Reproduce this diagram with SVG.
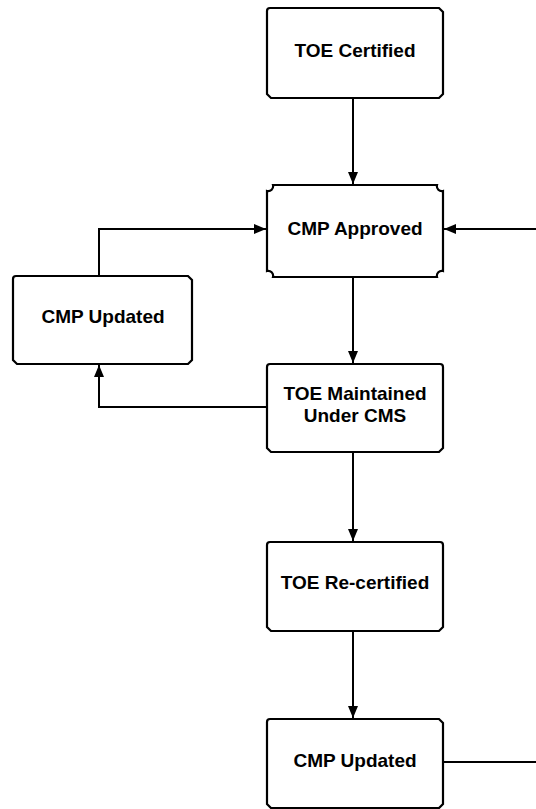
<svg xmlns="http://www.w3.org/2000/svg" width="536" height="809" viewBox="0 0 536 809">
<style>
.box{fill:#fff;stroke:#000;stroke-width:2.2}
.lbl{font-family:"Liberation Sans",Arial,sans-serif;font-weight:bold;font-size:19px;fill:#000;text-anchor:middle}
.con{fill:none;stroke:#000;stroke-width:2}
</style>
<defs>
<marker id="ah" viewBox="0 0 12 10" refX="12" refY="5" markerWidth="12" markerHeight="10" markerUnits="userSpaceOnUse" orient="auto">
<path d="M0,0 L12,5 L0,10 Z" fill="#000"/>
</marker>
</defs>
<rect width="536" height="809" fill="#fff"/>
<g id="connectors">
<path class="con" d="M353,98 V184" marker-end="url(#ah)"/>
<path class="con" d="M353,277 V363" marker-end="url(#ah)"/>
<path class="con" d="M353,452 V541" marker-end="url(#ah)"/>
<path class="con" d="M353,631 V718" marker-end="url(#ah)"/>
<path class="con" d="M267,407 H99 V365" marker-end="url(#ah)"/>
<path class="con" d="M99,276 V229 H266" marker-end="url(#ah)"/>
<path class="con" d="M443,762 H536"/>
<path class="con" d="M536,229 H444" marker-end="url(#ah)"/>
</g>
<g id="toe-certified">
<path class="box" d="M270,8 H439 L443,12 V94 L439,98 H271 L267,94 V11 Q267,8 270,8 Z"/>
<text class="lbl" x="355" y="57">TOE Certified</text>
</g>
<g id="cmp-approved">
<path class="box" d="M273,185 H437 A5,5 0 0 0 443,191 V271 A5,5 0 0 0 437,277 H273 A5,5 0 0 0 267,271 V191 A5,5 0 0 0 273,185 Z"/>
<text class="lbl" x="355" y="235">CMP Approved</text>
</g>
<g id="cmp-updated-left">
<path class="box" d="M16,276 H188 L192,280 V360 L188,364 H17 L13,360 V279 Q13,276 16,276 Z"/>
<text class="lbl" x="103" y="323">CMP Updated</text>
</g>
<g id="toe-maintained">
<path class="box" d="M270,364 H440 Q443,364 443,367 V448 L439,452 H271 L267,448 V367 Q267,364 270,364 Z"/>
<text class="lbl" x="355" y="400">TOE Maintained</text>
<text class="lbl" x="355" y="422">Under CMS</text>
</g>
<g id="toe-recertified">
<path class="box" d="M270,542 H440 Q443,542 443,545 V627 L439,631 H271 L267,627 V545 Q267,542 270,542 Z"/>
<text class="lbl" x="355" y="589">TOE Re-certified</text>
</g>
<g id="cmp-updated-bottom">
<path class="box" d="M270,719 H439 L443,723 V804 L439,808 H271 L267,804 V722 Q267,719 270,719 Z"/>
<text class="lbl" x="355" y="767">CMP Updated</text>
</g>
</svg>
